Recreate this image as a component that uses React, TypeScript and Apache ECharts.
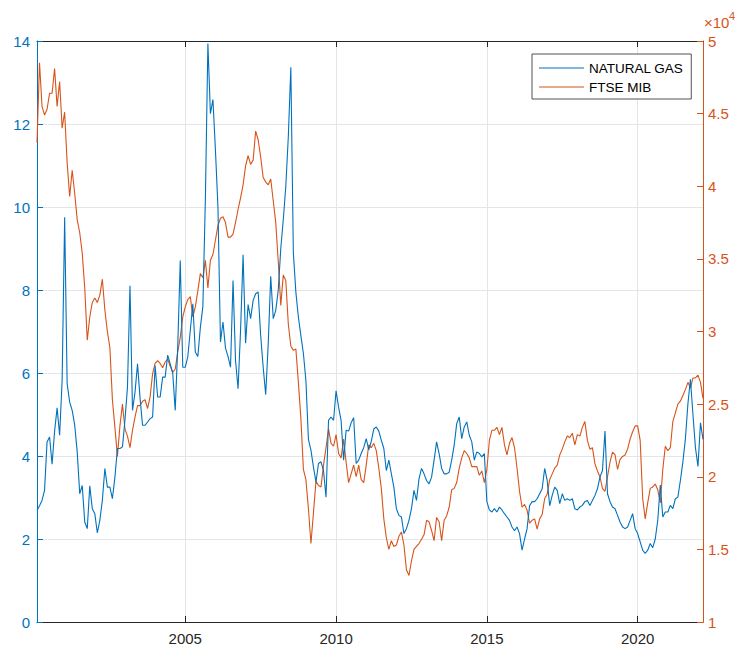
import React, { useEffect, useRef } from "react";
import * as echarts from "echarts";

// Monthly observations, first one in February 2000
const START_YEAR = 2000;
const START_MONTH = 2;

const YEAR_TICKS = [2005, 2010, 2015, 2020];

// Natural gas price (left axis)
const naturalGas = [
  2.69, 2.8, 2.93, 3.17, 4.34, 4.46, 3.8, 4.6, 5.16, 4.5, 5.82, 9.75,
  5.74, 5.3, 5.1, 4.75, 4.1, 3.09, 3.29, 2.41, 2.25, 3.28, 2.73, 2.61,
  2.15, 2.45, 2.93, 3.7, 3.25, 3.25, 2.97, 3.49, 4.18, 4.18, 4.22, 4.86,
  5.66, 8.1, 5.1, 5.54, 6.22, 5.4, 4.74, 4.74, 4.82, 4.9, 4.94, 6.18,
  5.42, 5.42, 5.9, 5.9, 6.43, 6.22, 6.0, 5.1, 6.63, 8.71, 6.14, 6.14,
  6.39, 7.03, 7.67, 6.5, 6.4, 7.1, 7.6, 10.2, 13.94, 12.25, 12.59, 11.37,
  10.0, 6.75, 7.23, 6.6, 6.4, 6.14, 8.23, 6.3, 5.62, 7.03, 8.85, 6.72,
  7.65, 7.31, 7.75, 7.91, 7.95, 6.9, 6.14, 5.48, 6.7, 8.33, 7.31, 7.51,
  8.0, 9.0, 9.7, 10.5, 11.7, 13.37, 8.9, 7.95, 7.35, 6.9, 6.47, 5.82,
  4.4, 4.14, 3.73, 3.37, 3.82, 3.86, 3.65, 3.01, 4.86, 4.94, 4.86, 5.57,
  5.18, 4.86, 3.9, 4.62, 4.6, 4.8, 4.92, 3.82, 3.9, 4.06, 4.2, 4.42,
  4.15, 4.35, 4.65, 4.7, 4.6, 4.38, 4.18, 3.65, 3.9, 3.57, 3.25, 2.73,
  2.57, 2.53, 2.13, 2.25, 2.45, 2.73, 3.17, 2.93, 3.45, 3.7, 3.57, 3.41,
  3.33, 3.49, 3.9, 4.34, 4.06, 3.7, 3.57, 3.57, 3.61, 3.9, 4.26, 4.78,
  4.94, 4.42, 4.7, 4.82, 4.5, 4.34, 3.9, 4.1, 4.06, 3.98, 4.06, 2.9,
  2.7, 2.65, 2.73, 2.65, 2.77, 2.7, 2.61, 2.53, 2.45, 2.29, 2.2, 2.29,
  2.13, 1.73, 2.0, 2.25, 2.8, 2.9, 2.9, 2.97, 3.09, 3.21, 3.7, 3.41,
  2.8, 3.05, 3.25, 3.17, 2.85, 3.09, 2.93, 2.97, 2.93, 2.97, 2.73, 2.7,
  2.77, 2.81, 2.9, 2.93, 2.81, 2.93, 3.05, 3.21, 3.49, 3.65, 4.6, 3.09,
  2.9, 2.77, 2.73, 2.57, 2.41, 2.29, 2.25, 2.29, 2.45, 2.61, 2.25, 2.13,
  1.93, 1.73, 1.65, 1.73, 1.89, 1.79, 2.0, 2.45, 3.3, 2.53, 2.65, 2.65,
  2.81, 2.73, 2.97, 3.01, 3.41, 3.86, 4.42, 5.26, 5.85, 5.0, 4.2, 3.75,
  4.8, 4.4,
];

// FTSE MIB index level (right axis)
const ftseMib = [
  43000, 48500, 45500, 44900, 45300, 46400, 46400, 48100, 45500, 47200, 44000, 45100,
  41600, 39300, 41100, 39500, 37700, 36800, 35400, 33000, 29400, 31000, 32000, 32300,
  32000, 32500, 33600, 31500, 30000, 28900, 25300, 23400, 21400, 23500, 25000, 23300,
  22800, 22000, 23200, 24100, 24900, 24900, 25200, 25300, 24700, 25500, 27100, 27800,
  28000, 27800, 27500, 27900, 28100, 27600, 27200, 27400, 28600, 29600, 31000, 31700,
  32200, 32400, 31000, 31700, 32800, 34000, 33700, 34900, 33000, 34900, 35300, 36300,
  37300, 37800, 37900, 37500, 36500, 36500, 36700, 37500, 38400, 39200, 40100, 41400,
  42100, 41500, 41800, 43800, 43200, 42000, 40600, 40300, 40100, 40500, 39000, 37500,
  34800, 31800, 33900, 33500, 30500, 29000, 28700, 28800, 26500, 24000, 20500, 19800,
  17800, 15400, 17500, 19700, 19400, 19300, 20800, 22000, 23300, 22300, 22100, 22900,
  21600, 21300, 22600, 21000, 19600, 20200, 20800, 20000, 20800, 19800, 19600, 20800,
  22200, 22000, 22300, 21800, 20600, 19200, 17100, 15800, 15000, 15600, 15200, 15300,
  15900, 16200, 15300, 13600, 13200, 14200, 15000, 15200, 15400, 15700, 16000, 17000,
  16900, 16300, 15600, 17200, 16900, 15600, 17000, 17300, 17900, 19100, 19200, 19600,
  20600, 21300, 21800, 21600, 21300, 20700, 20700, 20700, 20100, 20400, 19600, 20500,
  22500, 23200, 23200, 23400, 22900, 23400, 22200, 21500, 22300, 22700, 22000, 20600,
  19000, 17900, 18100, 17700, 16800, 17000, 17100, 16400, 17100, 17400, 18500, 18800,
  19800, 20200, 20600, 20800, 21500, 21900, 22400, 22800, 22700, 23000, 22200, 22900,
  22800, 23400, 23800, 22500, 21900, 22000, 20900, 20400, 20000, 19200, 19000, 20000,
  21000, 21700, 21500, 20500, 21200, 21400, 21500, 21900, 22600, 23100, 23500, 23500,
  22500, 18500, 17100, 18200, 19200, 19300, 19500, 19100, 18200, 20500, 22100, 21800,
  22000, 23800, 24400, 25000, 25200, 25600, 26000, 26500, 26100, 26800, 26800, 27000,
  26500, 25400,
];

const BLUE = "#0072BD";
const ORANGE = "#D95319";
const DARK = "#262626";
const GRID = "#e2e5e9";
const FONT = "'Liberation Sans', Arial, sans-serif";

// decimal year for the i-th monthly observation
const yearOf = (i: number) => START_YEAR + (START_MONTH - 1 + i) / 12;

export default function App() {
  const ref = useRef<HTMLDivElement>(null);

  useEffect(() => {
    document.body.style.margin = "0";
    if (!ref.current) return;
    const chart = echarts.init(ref.current, undefined, { renderer: "svg" });

    const xs = naturalGas.map((_, i) => yearOf(i));
    const xMin = xs[0];
    const xMax = xs[xs.length - 1];

    chart.setOption({
      animation: false,
      backgroundColor: "#ffffff",
      textStyle: { fontFamily: FONT },
      grid: { left: 37, right: 36, top: 41, bottom: 24, containLabel: false },
      legend: {
        data: ["NATURAL GAS", "FTSE MIB"],
        orient: "vertical",
        left: 532,
        top: 54,
        padding: [6, 8, 4, 7],
        itemGap: 3,
        itemWidth: 45,
        itemHeight: 1,
        icon: "rect",
        backgroundColor: "#ffffff",
        borderColor: DARK,
        borderWidth: 0.8,
        borderRadius: 0,
        textStyle: { color: "#000000", fontSize: 13.5, lineHeight: 16, fontFamily: FONT },
      },
      xAxis: [
        {
          type: "value",
          min: xMin,
          max: xMax,
          position: "bottom",
          axisLine: { show: true, lineStyle: { color: DARK, width: 1 } },
          axisTick: {
            show: true,
            inside: true,
            length: 6,
            customValues: YEAR_TICKS,
            lineStyle: { color: DARK },
          },
          axisLabel: {
            customValues: YEAR_TICKS,
            color: DARK,
            fontSize: 15,
            margin: 9,
            fontFamily: FONT,
            formatter: (v: number) => String(v),
          },
          splitLine: { show: true, lineStyle: { color: GRID, width: 1 } },
        },
        {
          type: "value",
          min: xMin,
          max: xMax,
          position: "top",
          axisLine: { show: true, lineStyle: { color: DARK, width: 1 } },
          axisTick: {
            show: true,
            inside: true,
            length: 6,
            customValues: YEAR_TICKS,
            lineStyle: { color: DARK },
          },
          axisLabel: { show: false },
          splitLine: { show: false },
        },
      ],
      yAxis: [
        {
          type: "value",
          min: 0,
          max: 14,
          interval: 2,
          position: "left",
          axisLine: { show: true, lineStyle: { color: BLUE, width: 1 } },
          axisTick: { show: true, inside: true, length: 6, lineStyle: { color: BLUE } },
          axisLabel: { color: BLUE, fontSize: 15, margin: 7, fontFamily: FONT },
          splitLine: { show: true, lineStyle: { color: GRID, width: 1 } },
        },
        {
          type: "value",
          min: 10000,
          max: 50000,
          interval: 5000,
          position: "right",
          axisLine: { show: true, lineStyle: { color: ORANGE, width: 1 } },
          axisTick: { show: true, inside: true, length: 6, lineStyle: { color: ORANGE } },
          axisLabel: {
            color: ORANGE,
            fontSize: 15,
            margin: 5,
            fontFamily: FONT,
            formatter: (v: number) => String(v / 10000),
          },
          splitLine: { show: false },
        },
      ],
      graphic: [
        {
          type: "text",
          left: 704,
          top: 15,
          style: { text: "×10", fill: ORANGE, fontSize: 15, fontFamily: FONT },
        },
        {
          type: "text",
          left: 729,
          top: 10,
          style: { text: "4", fill: ORANGE, fontSize: 11, fontFamily: FONT },
        },
      ],
      series: [
        {
          name: "FTSE MIB",
          type: "line",
          xAxisIndex: 0,
          yAxisIndex: 1,
          showSymbol: false,
          symbol: "none",
          lineStyle: { color: ORANGE, width: 1.1 },
          itemStyle: { color: ORANGE },
          data: xs.map((x, i) => [x, ftseMib[i]]),
          z: 2,
        },
        {
          name: "NATURAL GAS",
          type: "line",
          xAxisIndex: 0,
          yAxisIndex: 0,
          showSymbol: false,
          symbol: "none",
          lineStyle: { color: BLUE, width: 1.1 },
          itemStyle: { color: BLUE },
          data: xs.map((x, i) => [x, naturalGas[i]]),
          z: 3,
        },
      ],
    });

    return () => chart.dispose();
  }, []);

  return <div ref={ref} style={{ width: 739, height: 646 }} />;
}
